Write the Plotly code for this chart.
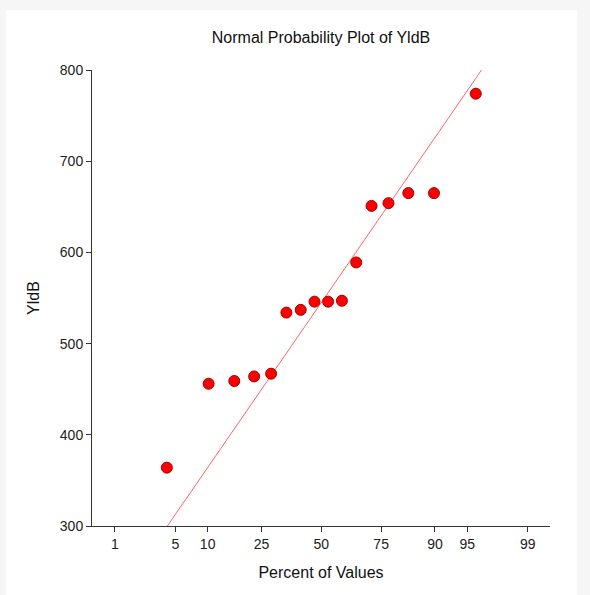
from statistics import NormalDist
import plotly.graph_objects as go

# ---- data ----
percent_of_values = [4.08, 10.20, 16.33, 22.45, 28.57, 34.69, 40.82, 46.94,
                     53.06, 59.18, 65.31, 71.43, 77.55, 83.67, 89.80, 95.92]
yldb = [364, 456, 459, 464, 467, 534, 537, 546,
        546, 547, 589, 651, 654, 665, 665, 774]
tick_percents = [1, 5, 10, 25, 50, 75, 90, 95, 99]
ref_line_center = 545.0   # YldB at 50%
ref_line_scale = 141.2    # YldB per normal score
y_range = [300, 800]

nd = NormalDist()
def probit(p):
    return nd.inv_cdf(p / 100.0)

xs = [probit(p) for p in percent_of_values]
tickvals = [probit(p) for p in tick_percents]
ticktext = [str(p) for p in tick_percents]

line_z = [(y - ref_line_center) / ref_line_scale for y in y_range]

font = "Liberation Sans, Arial, sans-serif"
fig = go.Figure()
fig.add_trace(go.Scatter(x=line_z, y=y_range, mode="lines",
                         line=dict(color="#ff6464", width=1),
                         hoverinfo="skip", showlegend=False))
fig.add_trace(go.Scatter(x=xs, y=yldb, mode="markers",
                         marker=dict(color="#ff0000", size=11,
                                     line=dict(color="#a00000", width=1)),
                         showlegend=False))

W, H = 590, 595
L, R, T, B = 92, 40, 70, 69
pw, ph = W - L - R, H - T - B
def px2x(px):
    return (px - L) / pw
def py2y(py):
    return (H - B - py) / ph

fig.add_shape(type="rect", xref="paper", yref="paper",
              x0=px2x(6), x1=px2x(577), y0=py2y(600), y1=py2y(10),
              fillcolor="white", line=dict(width=0), layer="below")

fig.update_layout(
    width=W, height=H,
    margin=dict(l=L, r=R, t=T, b=B),
    paper_bgcolor="#f6f6f6", plot_bgcolor="white",
    font=dict(family=font, size=14, color="#222222"),
    title=dict(text="Normal Probability Plot of YldB", x=0.5, xref="paper",
               y=1 - 37 / H, yref="container", yanchor="middle", xanchor="center",
               font=dict(size=16, color="#111111", family=font)),
    xaxis=dict(range=[-2.585, 2.578], tickvals=tickvals, ticktext=ticktext,
               showgrid=False, zeroline=False, showline=True, linecolor="#333333",
               linewidth=1, ticks="outside", ticklen=5, tickcolor="#333333",
               title=dict(text="Percent of Values", standoff=16,
                          font=dict(size=16, color="#111111"))),
    yaxis=dict(range=y_range, tickvals=[300, 400, 500, 600, 700, 800],
               showgrid=False, zeroline=False, showline=True, linecolor="#333333",
               linewidth=1, ticks="outside", ticklen=5, tickcolor="#333333",
               title=dict(text="YldB", standoff=16,
                          font=dict(size=16, color="#111111"))),
)

fig.write_html("out.html", config={"displayModeBar": False},
               post_script="document.body.style.margin='0px';document.body.style.background='#f6f6f6';")
